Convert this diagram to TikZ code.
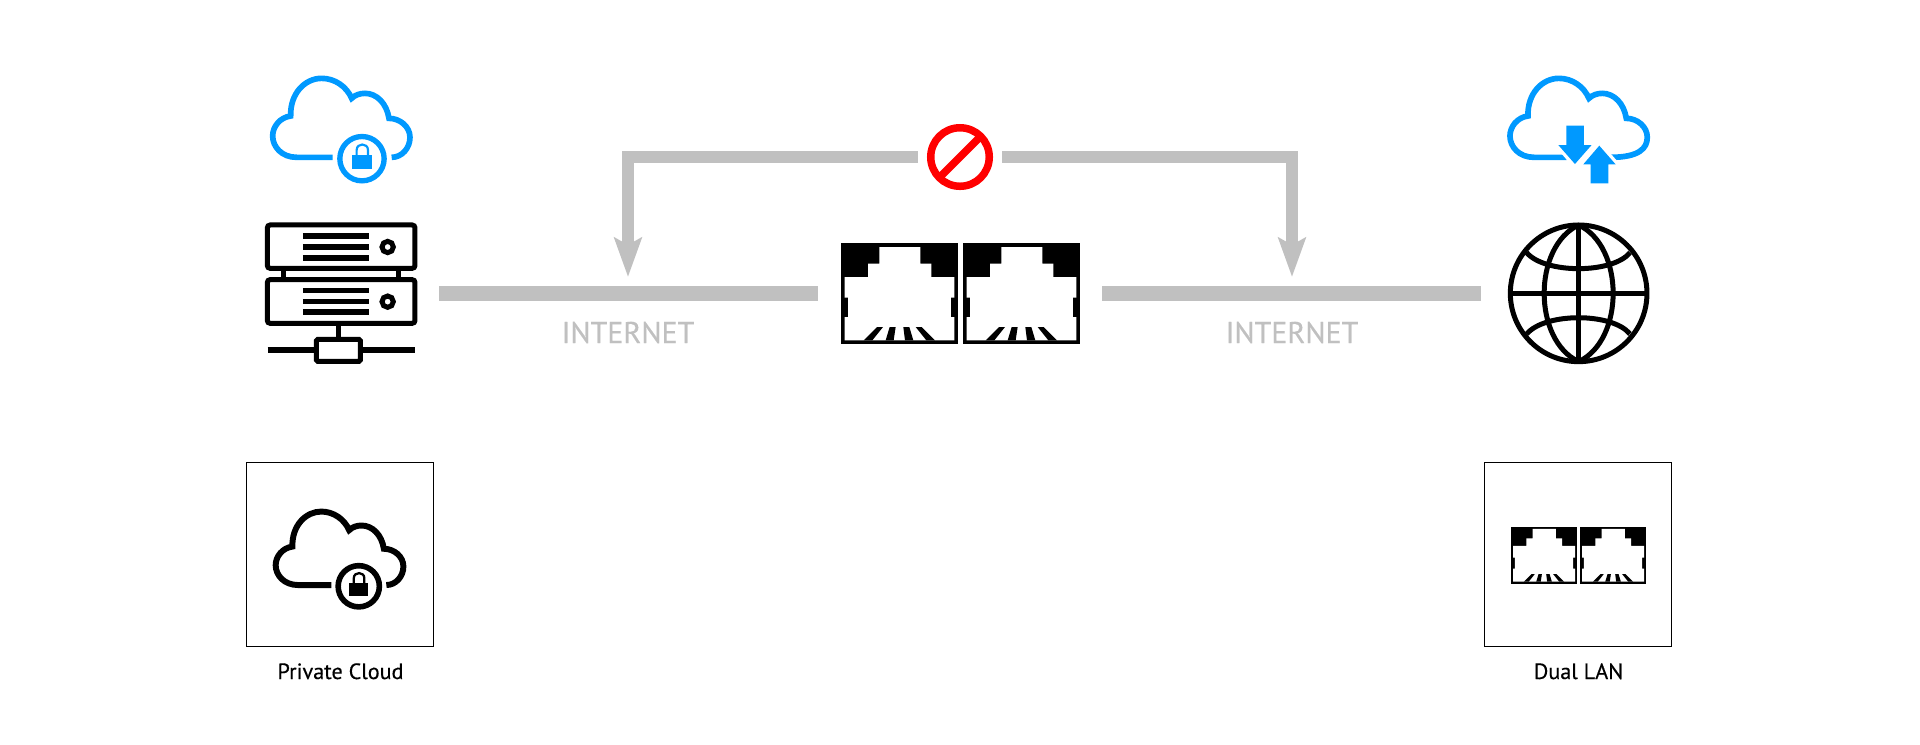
\documentclass[tikz,border=0pt]{standalone}
\usepackage{fontspec}
\setmainfont{PT Sans}[FakeBold=0.35]
\usetikzlibrary{positioning,arrows.meta,calc}
\definecolor{skyblue}{HTML}{0099FF}
\definecolor{wangray}{HTML}{C0C0C0}
\newcommand{\px}{0.2845pt}
\newcommand{\zu}{0.09485pt}
\newcommand{\cloudoutline}[2]{(#1,292) -- (170,292) .. controls (125,292) and (98,260) .. (98,228)
  .. controls (98,200) and (120,172) .. (152,168) .. controls (150,100) and (195,55) .. (245,55)
  .. controls (285,55) and (320,80) .. (335,115) .. controls (345,105) and (360,100) .. (375,100)
  .. controls (410,100) and (440,130) .. (447,175) .. controls (480,175) and (510,200) .. (510,232)
  .. controls (510,265) and (485,292) .. (#2,292)}
\tikzset{
  wanbar/.style={wangray, line width=15*\px},
  flowarrow/.style={-{Stealth[length=39*\px, width=27*\px, inset=7*\px]}, wangray, line width=12*\px},
  spotnode/.style={inner sep=0pt, outer sep=0pt, minimum height=20*\px},
  tilebox/.style={draw, line width=1*\px, inner sep=0pt, outer sep=0pt, minimum width=187*\px, minimum height=184*\px},
  wanlabel/.style={wangray, font=\fontsize{8.55pt}{10pt}\selectfont, inner sep=0pt},
  tilelabel/.style={anchor=base, inner sep=0pt, font=\fontsize{6.3pt}{8pt}\selectfont},
  pics/lockcloud/.style n args={2}{code={
    \draw[#1, line width=#2*17*\zu] \cloudoutline{278}{455};
    \draw[#1, line width=#2*16*\zu] (366,296) circle[radius=66.5];
    \fill[#1] (336,285) rectangle (397,328);
    \draw[#1, line width=#2*6.5*\zu] (350,287) -- (350,270) .. controls (350,248) and (384,248) .. (384,270) -- (384,287);
  }},
  pics/transfercloud/.style={code={
    \draw[skyblue, line width=17*\zu] \cloudoutline{268}{400};
    \fill[skyblue, preaction={draw=white, line width=20*\zu}] (267,197) -- (320,197) -- (320,255) -- (343,255) -- (293,312) -- (243,255) -- (267,255) -- cycle;
    \fill[skyblue, preaction={draw=white, line width=20*\zu}] (340,370) -- (393,370) -- (393,313) -- (415,313) -- (366,257) -- (318,313) -- (340,313) -- cycle;
  }},
  pics/rjport/.style={code={
    \fill[black] (0,0) rectangle (350,304);
    \fill[white] (115,12) -- (238,12) -- (238,62) -- (271,62) -- (271,102) -- (340,102) -- (340,164) -- (330,164)
      -- (330,222) -- (340,222) -- (340,292) -- (11,292) -- (11,222) -- (21,222) -- (21,164) -- (11,164)
      -- (11,102) -- (81,102) -- (81,62) -- (115,62) -- cycle;
    \fill[black] (68,292) -- (108,252) -- (126,252) -- (94,292) -- cycle;
    \fill[black] (134,292) -- (146,252) -- (164,252) -- (158,292) -- cycle;
    \fill[black] (192,292) -- (187,252) -- (205,252) -- (217,292) -- cycle;
    \fill[black] (256,292) -- (224,252) -- (242,252) -- (282,292) -- cycle;
  }},
  pics/rackserver/.style={code={
    \begin{scope}[line width=15*\zu]
      \draw[rounded corners=0.8pt] (82,495) rectangle (525,625);
      \draw[rounded corners=0.8pt] (82,659) rectangle (525,790);
      \draw (132,625) -- (132,659);
      \draw (476,625) -- (476,659);
      \draw (296,790) -- (296,838);
      \draw[rounded corners=0.4pt] (229,838) rectangle (361,904);
      \draw (443,561) circle[radius=17];
      \draw (443,725) circle[radius=17];
    \end{scope}
    \begin{scope}[line width=17*\zu]
      \foreach \ypos in {528,561,594,692,725,757}
        \draw (189,\ypos) -- (386,\ypos);
      \draw (83,871) -- (222,871);
      \draw (368,871) -- (525,871);
    \end{scope}
  }},
  pics/wireglobe/.style={code={
    \begin{scope}[line width=15*\zu]
      \draw (296,700) circle[radius=205];
      \draw (296,495) -- (296,905);
      \draw (91,700) -- (501,700);
      \draw (296,495) .. controls (158,560) and (158,840) .. (296,905);
      \draw (296,495) .. controls (434,560) and (434,840) .. (296,905);
      \draw (140,578) .. controls (195,642) and (397,642) .. (450,578);
      \draw (140,822) .. controls (195,757) and (397,757) .. (450,822);
    \end{scope}
  }}
}
\begin{document}
\begin{tikzpicture}[x=0.01cm, y=-0.01cm]
  \useasboundingbox (0,0) rectangle (1920,744);
  % top row
  \pic[scale=0.3333] at (240,60) {lockcloud={skyblue}{1}};
  \pic[scale=0.3333] at (1477.3,60) {transfercloud};
  \pic[scale=0.3333] at (240,60) {rackserver};
  \pic[scale=0.3333] at (1480,60) {wireglobe};
  \pic[scale=0.3333] at (841,243) {rjport};
  \pic[scale=0.3333] at (963,243) {rjport};
  \node[spotnode, minimum width=196*\px] (server) at (341,293.5) {};
  \node[spotnode, minimum width=284*\px] (ports) at (960,293.5) {};
  \node[spotnode, minimum width=196*\px] (globe) at (1579,293.5) {};
  \draw[wanbar] (server.east) -- (ports.west);
  \draw[wanbar] (ports.east) -- (globe.west);
  % blocked path
  \node[circle, draw=red, line width=7.5*\px, inner sep=0pt, minimum size=58.5*\px, outer sep=12.75*\px] (block) at (960,157) {};
  \draw[red, line width=7.5*\px] ($(block.center)+(21,-21)$) -- ($(block.center)+(-21,21)$);
  \coordinate (tapL) at (628,277);
  \coordinate (tapR) at (1292,277);
  \draw[flowarrow] (block.west) -| (tapL);
  \draw[flowarrow] (block.east) -| (tapR);
  \node[wanlabel] (wanL) at (628,332.5) {INTERNET};
  \node[wanlabel] (wanR) at (1292,332.5) {INTERNET};
  % tiles
  \node[tilebox] (cloudtile) at (340,554.5) {};
  \node[tilebox] (lantile) at (1578,554.5) {};
  \pic[scale=0.31] at (245.3,494.5) {lockcloud={black}{1.05}};
  \pic[scale=0.1883] at (1511,526.7) {rjport};
  \pic[scale=0.1883] at (1580,526.7) {rjport};
  \node[tilelabel] (cloudname) at (340.5,679) {Private Cloud};
  \node[tilelabel] (lanname) at (1578.5,679) {Dual LAN};
\end{tikzpicture}
\end{document}
